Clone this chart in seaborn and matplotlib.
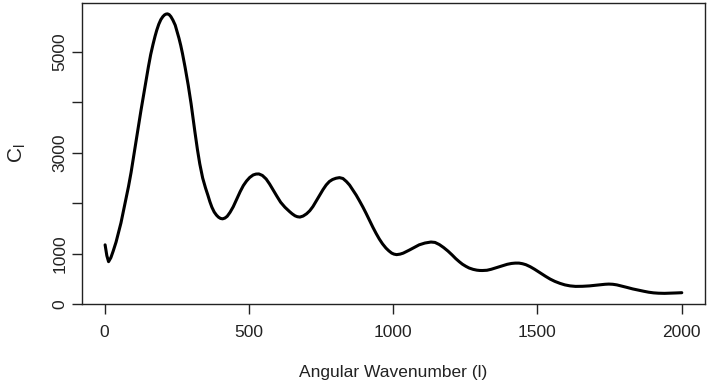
import numpy as np
import pandas as pd
import matplotlib
matplotlib.use("Agg")
import matplotlib.pyplot as plt
import seaborn as sns

# values
wavenumber = [2, 8, 14, 22, 30, 40, 48, 57, 65, 74, 83, 92, 100, 108, 117, 126, 135,
              144, 152, 160, 168, 175, 181, 188, 195, 202, 208, 213, 218, 224, 230,
              237, 245, 251, 258, 264, 270, 279, 290, 300, 313, 322, 330, 340, 350,
              358, 365, 372, 380, 388, 395, 402, 409, 417, 425, 435, 446, 458, 470,
              481, 492, 503, 515, 525, 535, 547, 560, 572, 584, 597, 610, 625, 641,
              650, 660, 668, 677, 688, 700, 711, 722, 733, 745, 757, 768, 779, 790,
              802, 814, 826, 838, 849, 860, 872, 883, 895, 906, 918, 930, 941, 952,
              963, 975, 985, 995, 1003, 1012, 1024, 1035, 1045, 1056, 1073, 1090,
              1110, 1131, 1145, 1160, 1175, 1190, 1204, 1217, 1229, 1240, 1252, 1263,
              1277, 1290, 1300, 1309, 1325, 1340, 1360, 1380, 1395, 1410, 1423, 1436,
              1448, 1460, 1475, 1490, 1509, 1528, 1544, 1560, 1578, 1595, 1613, 1632,
              1656, 1680, 1700, 1720, 1734, 1747, 1761, 1775, 1793, 1810, 1830, 1850,
              1868, 1885, 1902, 1919, 1940, 1960, 1980, 2000]
power = [1174, 960, 840, 920, 1050, 1230, 1406, 1610, 1830, 2070, 2329, 2610, 2900,
         3200, 3517, 3830, 4130, 4430, 4705, 4950, 5150, 5310, 5432, 5550, 5640, 5700,
         5735, 5750, 5755, 5740, 5700, 5630, 5530, 5410, 5270, 5130, 4970, 4700, 4340,
         3970, 3420, 3060, 2780, 2500, 2300, 2160, 2030, 1920, 1825, 1762, 1722, 1698,
         1690, 1705, 1740, 1820, 1930, 2080, 2230, 2350, 2440, 2510, 2560, 2578, 2580,
         2550, 2480, 2380, 2263, 2140, 2020, 1920, 1834, 1790, 1750, 1732, 1725, 1745,
         1790, 1850, 1933, 2040, 2160, 2270, 2362, 2430, 2470, 2495, 2507, 2490, 2430,
         2360, 2263, 2160, 2050, 1925, 1802, 1660, 1520, 1400, 1290, 1195, 1110, 1055,
         1010, 990, 980, 990, 1010, 1038, 1070, 1122, 1174, 1210, 1230, 1222, 1180,
         1120, 1050, 975, 900, 840, 790, 748, 715, 688, 672, 666, 665, 670, 690, 725,
         760, 788, 805, 812, 812, 800, 780, 740, 690, 620, 550, 495, 450, 410, 380, 360,
         350, 352, 360, 372, 385, 392, 396, 392, 380, 355, 330, 300, 275, 254, 235, 222,
         215, 212, 215, 220, 225]

x_ticks = [0, 500, 1000, 1500, 2000]
y_ticks = [0, 1000, 2000, 3000, 4000, 5000]
y_tick_labels = ["0", "1000", "", "3000", "", "5000"]

df = pd.DataFrame({"l": wavenumber, "Cl": power})

sns.set_style("ticks")
plt.rcParams["font.family"] = ["Liberation Sans", "DejaVu Sans"]
plt.rcParams["mathtext.default"] = "regular"

fig = plt.figure(figsize=(7.07, 3.87), dpi=100)
ax = fig.add_axes([0.116, 0.2137, 0.881, 0.7785])

sns.lineplot(data=df, x="l", y="Cl", color="black", linewidth=2.2, sort=False, ax=ax)

ax.set_xlim(-78, 2080)
ax.set_ylim(-5, 5970)
ax.set_xticks(x_ticks)
ax.set_xticklabels([str(t) for t in x_ticks])
ax.set_yticks(y_ticks)
ax.set_yticklabels(y_tick_labels, rotation=90, va="center")

for s in ax.spines.values():
    s.set_visible(True)
    s.set_color("#222222")
    s.set_linewidth(1.0)

ax.tick_params(axis="x", direction="out", length=7, width=1, pad=8, labelsize=12.5,
               colors="#222222")
ax.tick_params(axis="y", direction="out", length=7, width=1, pad=3.5, labelsize=12.5,
               colors="#222222")

ax.set_xlabel("Angular Wavenumber (l)", fontsize=12.5, color="#222222")
ax.set_ylabel(r"$C_l$", fontsize=15, color="#222222")
ax.xaxis.set_label_coords(0.5, -0.2)
ax.yaxis.set_label_coords(-0.086, 0.5)

fig.savefig("out.png", dpi=100)
